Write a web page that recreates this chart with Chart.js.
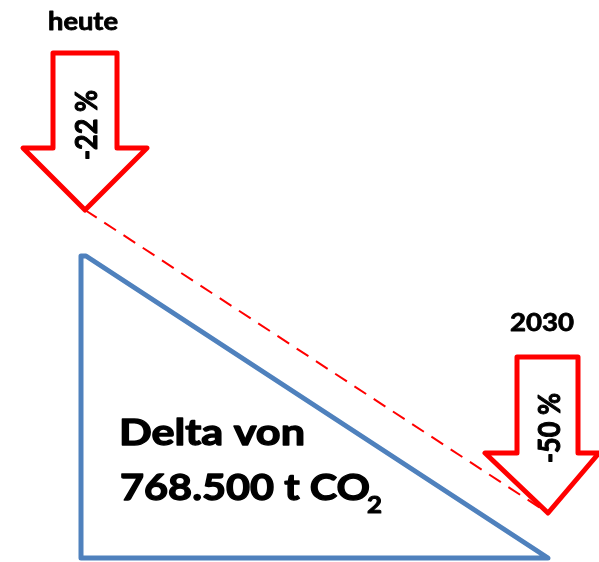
<!DOCTYPE html>
<html>
<head>
<meta charset="utf-8">
<script src="https://cdn.jsdelivr.net/npm/chart.js@4.4.1/dist/chart.umd.min.js"></script>
<style>
  html, body { margin: 0; padding: 0; background: #fff; }
  #wrap { width: 599px; height: 562px; }
</style>
</head>
<body>
<div id="wrap"><canvas id="delta" width="599" height="562"></canvas></div>
<script>
// Diagram geometry in the chart's own value space (x: 0..599, y: 0..562, top down)
const triangleX = [81, 81, 548, 86, 81];
const triangleY = [256, 558, 558, 256, 256];

const arrowTodayX = [53, 117, 117, 147, 85, 23, 53, 53];
const arrowTodayY = [53, 53, 148, 148, 210, 148, 148, 53];

const arrow2030X = [517, 578, 578, 599, 548, 485, 517, 517];
const arrow2030Y = [357, 357, 453, 453, 513, 453, 453, 357];

const trendX = [85, 548];
const trendY = [210, 513];

// texts
const yearLabels = ['heute', '2030'];
const stepLabels = ['-22 %', '-50 %'];
const deltaLines = ['Delta von', '768.500 t CO'];
const deltaSub = '2';

const FONT = "Lato, 'Open Sans', sans-serif";
const RED = '#ff0000';
const BLUE = '#4f81bd';

function toPoints(xs, ys) {
    return xs.map((x, i) => ({ x, y: ys[i] }));
}

function shape(label, xs, ys, color, extra) {
    return Object.assign({
        label,
        data: toPoints(xs, ys),
        showLine: true,
        borderColor: color,
        borderWidth: 5,
        borderJoinStyle: 'round',
        borderCapStyle: 'round',
        pointRadius: 0,
        fill: false,
        tension: 0
    }, extra || {});
}

// draws text with its width stretched/squeezed to a target width (the source font is a heavy Calibri)
function fitText(ctx, text, x, y, size, width, angle, heavy) {
    ctx.save();
    ctx.font = 'bold ' + size + 'px ' + FONT;
    ctx.translate(x, y);
    if (angle) ctx.rotate(angle);
    const w = ctx.measureText(text).width;
    ctx.scale(width / w, 1);
    ctx.fillText(text, 0, 0);
    if (heavy) {
        ctx.lineWidth = heavy;
        ctx.lineJoin = 'round';
        ctx.strokeText(text, 0, 0);
    }
    ctx.restore();
}

const textPlugin = {
    id: 'diagramText',
    afterDatasetsDraw(chart) {
        const ctx = chart.ctx;
        const sx = chart.scales.x, sy = chart.scales.y;
        const px = v => sx.getPixelForValue(v);
        const py = v => sy.getPixelForValue(v);
        ctx.save();
        ctx.fillStyle = '#000';
        ctx.strokeStyle = '#000';
        ctx.textBaseline = 'alphabetic';

        ctx.textAlign = 'left';
        fitText(ctx, yearLabels[0], px(48), py(30), 24, 70, 0, 0.8);
        fitText(ctx, yearLabels[1], px(510), py(331), 25, 64, 0, 0.8);

        fitText(ctx, deltaLines[0], px(119), py(445), 36, 186, 0, 1.3);
        fitText(ctx, deltaLines[1], px(120), py(500), 36, 250, 0, 1.3);
        fitText(ctx, deltaSub, px(367), py(513), 23, 15, 0, 1);

        ctx.textAlign = 'center';
        fitText(ctx, stepLabels[0], px(97), py(125), 30, 70, -Math.PI / 2, 1);
        fitText(ctx, stepLabels[1], px(560), py(428), 30, 70, -Math.PI / 2, 1);
        ctx.restore();
    }
};

new Chart(document.getElementById('delta').getContext('2d'), {
    type: 'scatter',
    data: {
        datasets: [
            shape('heute', arrowTodayX, arrowTodayY, RED),
            shape('2030', arrow2030X, arrow2030Y, RED),
            shape('Trend', trendX, trendY, RED, { borderWidth: 2, borderDash: [14, 9], borderCapStyle: 'butt' }),
            shape('Delta', triangleX, triangleY, BLUE)
        ]
    },
    options: {
        responsive: false,
        animation: false,
        layout: { padding: 0 },
        plugins: {
            legend: { display: false },
            tooltip: { enabled: false }
        },
        scales: {
            x: { type: 'linear', min: 0, max: 599, display: false },
            y: { type: 'linear', min: 0, max: 562, reverse: true, display: false }
        }
    },
    plugins: [textPlugin]
});
</script>
</body>
</html>
